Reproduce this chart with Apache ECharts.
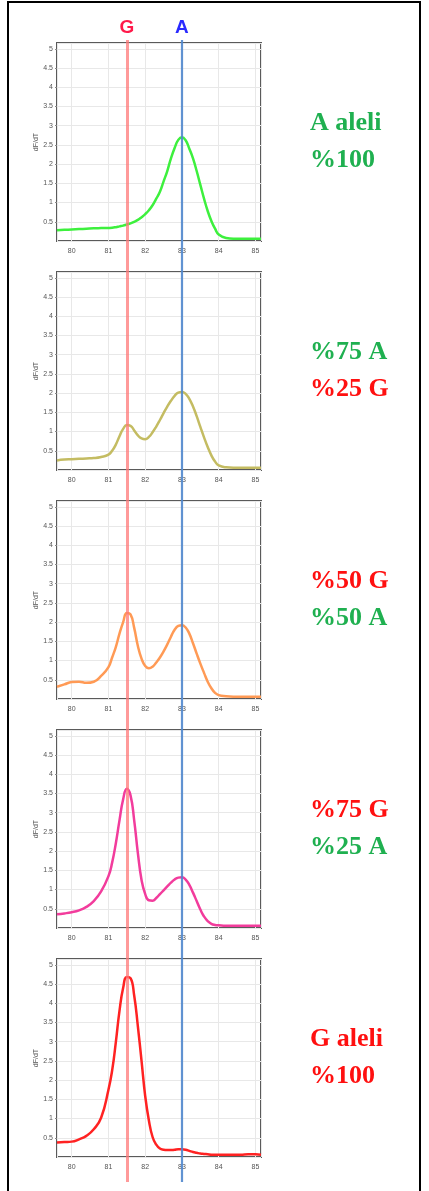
<!DOCTYPE html>
<html><head><meta charset="utf-8">
<script src="https://cdn.jsdelivr.net/npm/echarts@6/dist/echarts.min.js"></script>
<style>html,body{margin:0;padding:0;background:#fff}#c{width:429px;height:1191px}</style>
</head><body><div id="c"></div><script>
// Temperature (°C) sample points shared by all melt curves
const temps = [79.6,79.8,80.0,80.2,80.4,80.6,80.8,81.0,81.1,81.2,81.3,81.4,81.5,81.6,81.7,81.8,81.9,82.0,82.1,82.2,82.3,82.4,82.5,82.6,82.7,82.8,82.9,83.0,83.1,83.2,83.3,83.4,83.5,83.6,83.7,83.8,83.9,84.0,84.2,84.4,84.6,84.8,85.0,85.15];
// -dF/dT values per sample
const aleliA100 = [0.28,0.29,0.30,0.31,0.32,0.33,0.335,0.34,0.345,0.36,0.38,0.40,0.43,0.46,0.50,0.55,0.62,0.70,0.80,0.93,1.10,1.28,1.55,1.82,2.15,2.42,2.63,2.70,2.62,2.40,2.15,1.82,1.46,1.10,0.78,0.52,0.32,0.17,0.08,0.06,0.06,0.06,0.06,0.06];
const mix75A25G = [0.25,0.27,0.28,0.29,0.30,0.31,0.34,0.40,0.50,0.66,0.88,1.07,1.17,1.15,1.03,0.90,0.82,0.80,0.86,0.98,1.13,1.30,1.48,1.65,1.80,1.93,2.01,2.03,1.98,1.85,1.65,1.40,1.12,0.85,0.60,0.38,0.22,0.12,0.07,0.06,0.06,0.06,0.06,0.06];
const mix50G50A = [0.32,0.38,0.44,0.45,0.42,0.45,0.60,0.83,1.08,1.35,1.70,2.00,2.24,2.20,1.85,1.38,1.05,0.86,0.80,0.84,0.95,1.08,1.24,1.42,1.62,1.80,1.90,1.92,1.86,1.70,1.45,1.18,0.92,0.68,0.45,0.28,0.16,0.10,0.07,0.06,0.06,0.06,0.06,0.06];
const mix75G25A = [0.36,0.38,0.41,0.46,0.55,0.70,0.95,1.35,1.70,2.20,2.80,3.35,3.62,3.45,2.80,1.95,1.25,0.88,0.72,0.71,0.78,0.88,0.98,1.08,1.18,1.26,1.31,1.32,1.26,1.12,0.92,0.70,0.48,0.30,0.18,0.11,0.08,0.07,0.06,0.06,0.06,0.06,0.06,0.06];
const aleliG100 = [0.38,0.39,0.40,0.46,0.55,0.72,1.02,1.75,2.25,2.98,3.80,4.40,4.68,4.65,4.20,3.40,2.50,1.58,0.95,0.52,0.32,0.22,0.19,0.18,0.18,0.19,0.20,0.20,0.19,0.16,0.13,0.11,0.09,0.08,0.07,0.06,0.06,0.06,0.06,0.06,0.06,0.07,0.07,0.06];
const panelSeries = [aleliA100, mix75A25G, mix50G50A, mix75G25A, aleliG100];
const panelColors = ['#3df03d', '#c4bc62', '#ff9a55', '#f23c9c', '#ff2222'];
// allele reference melting temperatures
const alleleNames = ['G', 'A'];
const alleleTemps = [81.5, 83.0];
const alleleTextColors = ['#ff1a4a', '#2a2aff'];
const alleleLineColors = ['rgba(255,120,120,0.75)', 'rgba(80,135,205,0.9)'];
// right-hand annotations
const panelTexts = [['A aleli', '%100'], ['%75 A', '%25 G'], ['%50 G', '%50 A'], ['%75 G', '%25 A'], ['G aleli', '%100']];
const panelTextKinds = [['A', 'A'], ['A', 'G'], ['G', 'A'], ['G', 'A'], ['G', 'G']];
const textColor = { A: '#1fb050', G: '#ff1010' };
const yName = 'dF/dT';

const chart = echarts.init(document.getElementById('c'), null, { renderer: 'canvas' });
const G_LEFT = 57, G_WIDTH = 204, G_TOP0 = 43, G_STEP = 229, G_HEIGHT = 198;
const XMIN = 79.6, XMAX = 85.15;

const grids = [], xAxes = [], yAxes = [], series = [], graphics = [];
panelSeries.forEach((vals, i) => {
  const top = G_TOP0 + i * G_STEP;
  grids.push({ left: G_LEFT, top: top, width: G_WIDTH, height: G_HEIGHT, show: true, borderColor: '#5a5a5a', borderWidth: 2, backgroundColor: '#fff' });
  xAxes.push({
    type: 'value', gridIndex: i, min: XMIN, max: XMAX, splitNumber: 5,
    axisLine: { show: false }, axisTick: { show: false },
    axisLabel: { fontSize: 7, color: '#555', margin: 7, showMinLabel: false, showMaxLabel: false,
      formatter: v => Math.abs(v - Math.round(v)) < 1e-6 ? String(Math.round(v)) : '' },
    splitLine: { show: true, lineStyle: { color: '#e8e8e8', width: 1 } }
  });
  yAxes.push({
    type: 'value', gridIndex: i, min: 0, max: 5.15, interval: 0.5,
    name: yName, nameLocation: 'middle', nameGap: 14, nameRotate: 90,
    nameTextStyle: { fontSize: 7, color: '#555' },
    axisLine: { show: false }, axisTick: { show: true, length: 2, lineStyle: { color: '#888' } },
    axisLabel: { fontSize: 7, color: '#555', margin: 4, showMinLabel: false, showMaxLabel: false,
      formatter: v => (v === 0 || v > 5.01) ? '' : String(v) },
    splitLine: { show: true, lineStyle: { color: '#e8e8e8', width: 1 } }
  });
  series.push({
    type: 'line', xAxisIndex: i, yAxisIndex: i, smooth: 0.5, showSymbol: false, silent: true,
    lineStyle: { color: panelColors[i], width: 2.5 },
    data: temps.map((t, k) => [t, vals[k]]), z: 3
  });
  const cy = top + G_HEIGHT / 2;
  panelTexts[i].forEach((txt, j) => {
    graphics.push({
      type: 'text', left: 310, top: cy - 32 + j * 37,
      style: { text: txt, fill: textColor[panelTextKinds[i][j]], font: 'bold 26px "Liberation Serif", serif' }
    });
  });
});

// overlay grid spanning all panels for allele reference lines
const ov = panelSeries.length;
grids.push({ left: G_LEFT, top: 40, width: G_WIDTH, height: 1142, show: false });
xAxes.push({ type: 'value', gridIndex: ov, min: XMIN, max: XMAX, show: false, splitLine: { show: false } });
yAxes.push({ type: 'value', gridIndex: ov, min: 0, max: 1, show: false, splitLine: { show: false } });
series.push({
  type: 'line', xAxisIndex: ov, yAxisIndex: ov, data: [], silent: true, z: 10,
  markLine: {
    symbol: 'none', silent: true, animation: false,
    data: alleleNames.map((n, k) => ({
      xAxis: alleleTemps[k],
      lineStyle: { color: alleleLineColors[k], width: k === 0 ? 3 : 2.2, type: 'solid' },
      label: { show: true, position: 'end', formatter: n, color: alleleTextColors[k], fontSize: 19, fontWeight: 'bold', fontFamily: '"Liberation Sans", Arial, sans-serif', distance: 3 }
    }))
  }
});

graphics.push({ type: 'rect', shape: { x: 8, y: 2, width: 412, height: 1210 }, style: { fill: 'none', stroke: '#000', lineWidth: 2 }, silent: true, z: 100 });

chart.setOption({
  animation: false,
  backgroundColor: '#fff',
  grid: grids, xAxis: xAxes, yAxis: yAxes, series: series, graphic: graphics
});
</script></body></html>
